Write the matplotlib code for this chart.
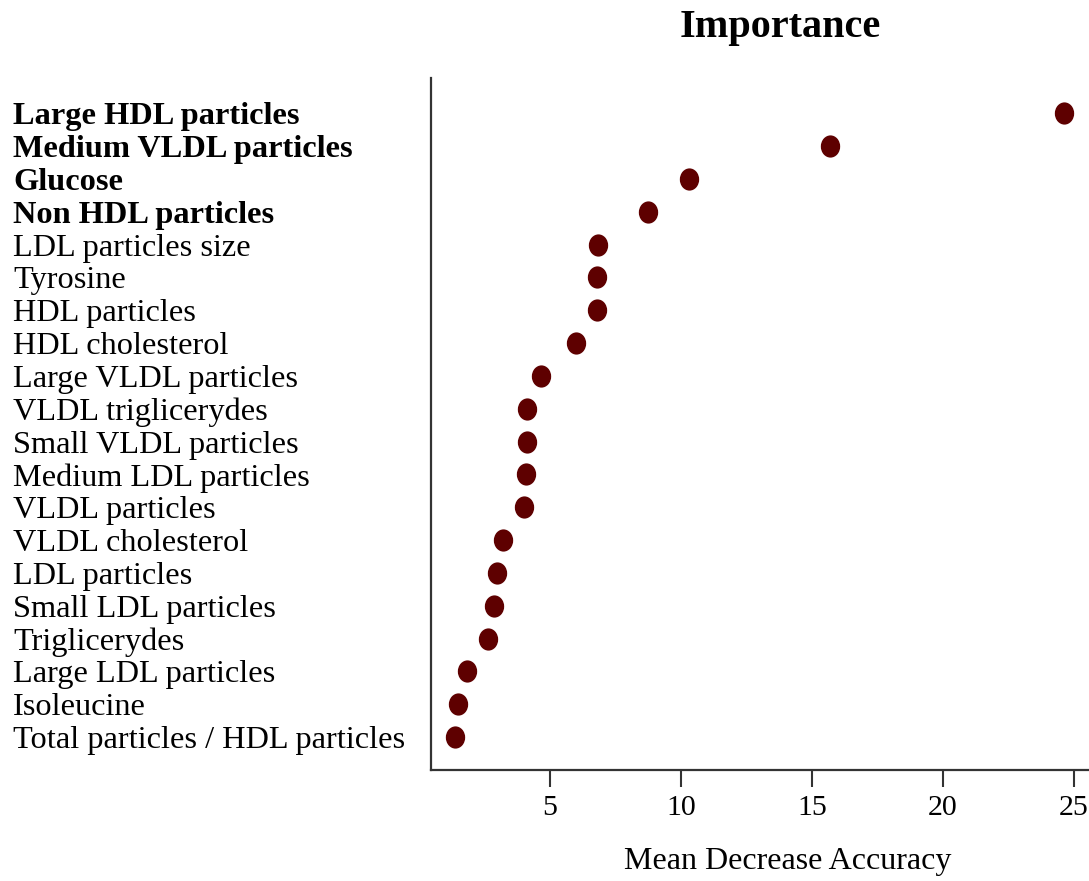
import matplotlib
matplotlib.use("Agg")
import matplotlib.pyplot as plt
from matplotlib.path import Path
from matplotlib.transforms import Affine2D

plt.rcParams['font.family'] = ['Liberation Serif', 'DejaVu Serif']

# variables, most important first
variables = [
    'Large HDL particles', 'Medium VLDL particles', 'Glucose', 'Non HDL particles',
    'LDL particles size', 'Tyrosine', 'HDL particles', 'HDL cholesterol',
    'Large VLDL particles', 'VLDL triglicerydes', 'Small VLDL particles',
    'Medium LDL particles', 'VLDL particles', 'VLDL cholesterol', 'LDL particles',
    'Small LDL particles', 'Triglicerydes', 'Large LDL particles', 'Isoleucine',
    'Total particles / HDL particles',
]
mda = [24.63, 15.68, 10.29, 8.76, 6.85, 6.81, 6.81, 6.00, 4.65, 4.13, 4.13,
       4.08, 3.99, 3.22, 2.99, 2.88, 2.63, 1.82, 1.48, 1.39]
bold_labels = ['Large HDL particles', 'Medium VLDL particles', 'Glucose', 'Non HDL particles']

W, H = 1089, 881
fig = plt.figure(figsize=(W / 100, H / 100), dpi=100)
ax = fig.add_axes([431 / W, 1 - 770 / H, 1 - 431 / W, (770 - 78) / H])

# slightly tall oval dots
oval = Path.unit_circle().transformed(Affine2D().scale(0.87, 1.0))

n = len(variables)
ypos = [n - i for i in range(n)]
ax.plot(mda, ypos, linestyle='none', marker=oval, color='#5e0000',
        markersize=16, markeredgewidth=0)

ax.set_xlim(0.46, 25.57)
ax.set_ylim(0, 21.07)
ax.set_xticks([5, 10, 15, 20, 25])
ax.set_yticks(ypos)
ax.set_yticklabels(variables, ha='left')

for lab in ax.get_yticklabels():
    if lab.get_text() in bold_labels:
        lab.set_fontweight('bold')

ax.tick_params(axis='y', length=0, pad=(431 - 13) * 0.72, labelsize=23.3)
ax.tick_params(axis='x', length=12, width=1.5, color='#333333', labelsize=21.5,
               direction='out', pad=6)

for side in ['top', 'right']:
    ax.spines[side].set_visible(False)
for side in ['left', 'bottom']:
    ax.spines[side].set_linewidth(1.6)
    ax.spines[side].set_color('#333333')

ax.set_xlabel('Mean Decrease Accuracy', fontsize=23)
ax.xaxis.set_label_coords((788 - 431) / (W - 431), -(862 - 770) / (770 - 78))
ax.xaxis.label.set_va('center')

fig.text(780 / W, 1 - 28 / H, 'Importance', fontsize=29, fontweight='bold',
         ha='center', va='center')

fig.savefig('out.png', dpi=100)
